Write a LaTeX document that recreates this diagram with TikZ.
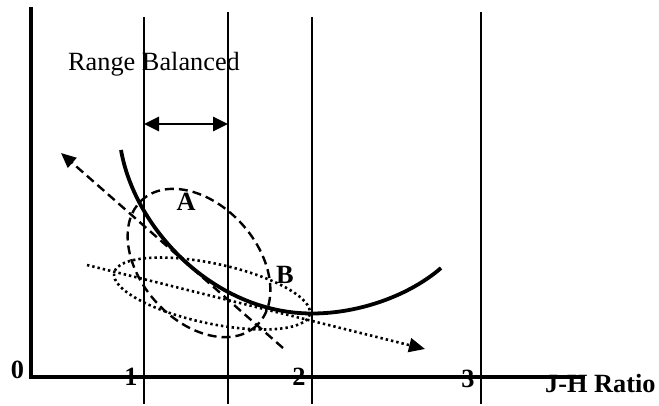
\documentclass[tikz,border=0pt]{standalone}
\usepackage{fontspec}
\setmainfont{Liberation Serif}
\usetikzlibrary{arrows.meta}
\tikzset{
  axisline/.style={line width=3.6pt},
  gridline/.style={line width=1.7pt},
  maincurve/.style={line width=3.8pt},
  dashline/.style={line width=2.4pt, dash pattern=on 9pt off 5pt},
  dotline/.style={line width=2.6pt, dash pattern=on 2.4pt off 3pt},
  lbl/.style={inner sep=0pt, anchor=base, font=\fontsize{26.3}{30}\selectfont\bfseries},
  txt/.style={inner sep=0pt, anchor=base west, font=\fontsize{26.3}{30}\selectfont},
}
\begin{document}
\begin{tikzpicture}[x=1pt, y=-1pt]
\useasboundingbox (0,0) rectangle (659,405);
% grid lines
\coordinate (g1t) at (144,17);  \coordinate (g1b) at (144,404);
\coordinate (g2t) at (228,12);  \coordinate (g2b) at (228,404);
\coordinate (g3t) at (312,17);  \coordinate (g3b) at (312,404);
\coordinate (g4t) at (481,12);  \coordinate (g4b) at (481,404);
\draw[gridline] (g1t) -- (g1b);
\draw[gridline] (g2t) -- (g2b);
\draw[gridline] (g3t) -- (g3b);
\draw[gridline] (g4t) -- (g4b);
% axes
\coordinate (yt) at (31,7);
\coordinate (org) at (31,377);
\coordinate (xe) at (585,377);
\draw[axisline] (yt) -- (org) -- (xe);
% labels
\node[lbl] (l0) at (17.5,378) {0};
\node[lbl] (l1) at (131,385) {1};
\node[lbl] (l2) at (299,385) {2};
\node[lbl] (l3) at (468,387) {3};
\node[lbl, anchor=base west] (lx) at (545,392) {J-H Ratio};
\node[txt] (rb) at (68,70) {Range Balanced};
% range arrow
\coordinate (ra) at (144,124);
\coordinate (rbb) at (228,124);
\draw[line width=2.8pt, {Triangle[length=15pt,width=14pt]}-{Triangle[length=15pt,width=14pt]}] (ra) -- (rbb);
% ellipses
\draw[dashline] (199,263) [rotate around={-48:(199,263)}] ellipse [x radius=85, y radius=58];
\draw[dotline] (212,293.5) [rotate around={-12:(212,293.5)}] ellipse [x radius=100, y radius=30];
% main curve
\coordinate (c0) at (121,150);
\coordinate (cm) at (312,313.5);
\coordinate (c1) at (441,268);
\draw[maincurve] (c0) .. controls (135,230) and (215,313.5) .. (cm)
                      .. controls (360,313.5) and (410,295) .. (c1);
% dashed arrow
\coordinate (da1) at (283,348);
\coordinate (da2) at (61,153);
\draw[dashline, -{Triangle[length=15pt,width=13pt]}] (da1) -- (da2);
% dotted arrow
\coordinate (do1) at (87,265);
\coordinate (do2) at (425,349);
\draw[dotline, -{Triangle[length=16pt,width=14pt]}] (do1) -- (do2);
% ellipse labels
\node[lbl] (la) at (186,210) {A};
\node[lbl] (lb) at (285,283) {B};
\end{tikzpicture}
\end{document}
